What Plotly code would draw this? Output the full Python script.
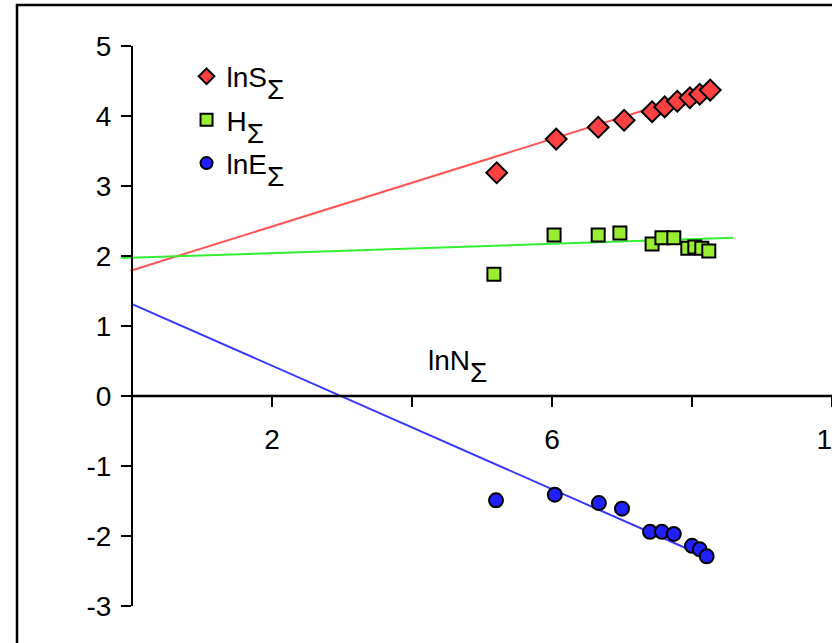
import plotly.graph_objects as go

# ---- data ----
s_x = [5.21, 6.06, 6.66, 7.03, 7.43, 7.61, 7.79, 7.97, 8.11, 8.26]
s_y = [3.19, 3.67, 3.84, 3.94, 4.06, 4.13, 4.21, 4.26, 4.31, 4.37]

h_x = [5.17, 6.03, 6.66, 6.97, 7.43, 7.57, 7.74, 7.94, 8.04, 8.14, 8.24]
h_y = [1.74, 2.30, 2.30, 2.33, 2.17, 2.26, 2.26, 2.11, 2.13, 2.11, 2.07]

e_x = [5.20, 6.04, 6.67, 7.00, 7.40, 7.57, 7.74, 8.00, 8.11, 8.21]
e_y = [-1.49, -1.41, -1.53, -1.61, -1.94, -1.94, -1.97, -2.14, -2.19, -2.29]

# trend lines (end points)
s_fit_x = [-0.02, 8.30]
s_fit_y = [1.79, 4.39]
h_fit_x = [-0.15, 8.59]
h_fit_y = [1.97, 2.26]
e_fit_x = [0.01, 8.20]
e_fit_y = [1.31, -2.30]

x_tickvals = [2, 4, 6, 8, 10]
x_ticktext = ["2", "", "6", "", "10"]
y_tickvals = [-3, -2, -1, 0, 1, 2, 3, 4, 5]
y_ticktext = ["-3", "-2", "-1", "0", "1", "2", "3", "4", "5"]

FONT = "Arial, Liberation Sans, sans-serif"
FS = 28
SIG = '<span style="baseline-shift:-0.42em">Σ</span>'

fig = go.Figure()

fig.add_trace(go.Scatter(x=s_fit_x, y=s_fit_y, mode="lines",
                         line=dict(color="#FF5555", width=2), showlegend=False))
fig.add_trace(go.Scatter(x=h_fit_x, y=h_fit_y, mode="lines",
                         line=dict(color="#33F033", width=2), showlegend=False))
fig.add_trace(go.Scatter(x=e_fit_x, y=e_fit_y, mode="lines",
                         line=dict(color="#3838FF", width=2), showlegend=False))

fig.add_trace(go.Scatter(x=s_x, y=s_y, mode="markers", name="lnS" + SIG,
                         legendgroup="a",
                         marker=dict(symbol="diamond", size=16, color="#FF4040",
                                     line=dict(color="black", width=2)),
                         cliponaxis=False))
fig.add_trace(go.Scatter(x=h_x, y=h_y, mode="markers", name="H" + SIG,
                         legendgroup="b",
                         marker=dict(symbol="square", size=13, color="#99EE33",
                                     line=dict(color="black", width=2)),
                         cliponaxis=False))
fig.add_trace(go.Scatter(x=e_x, y=e_y, mode="markers", name="lnE" + SIG,
                         legendgroup="c",
                         marker=dict(symbol="circle", size=14, color="#2020FF",
                                     line=dict(color="black", width=2)),
                         cliponaxis=False))

XMIN, XMAX = -0.2, 10.0
YMIN, YMAX = -3.0, 5.0

fig.update_layout(
    width=832, height=643,
    margin=dict(l=118, r=0, t=46, b=37, autoexpand=False),
    paper_bgcolor="white", plot_bgcolor="white",
    font=dict(family=FONT, size=FS, color="black"),
    xaxis=dict(range=[XMIN, XMAX], anchor="free", automargin=False,
               position=(0 - YMIN) / (YMAX - YMIN),
               showline=False, showgrid=False, zeroline=False,
               tickmode="array", tickvals=x_tickvals, ticktext=x_ticktext,
               ticks="outside", ticklen=10, tickwidth=1.5, tickcolor="black",
               ticklabeloverflow="allow", ticklabelstandoff=8,
               tickfont=dict(size=FS)),
    yaxis=dict(range=[YMIN, YMAX], anchor="free", automargin=False,
               position=(0 - XMIN) / (XMAX - XMIN),
               showline=True, linecolor="black", linewidth=2,
               showgrid=False, zeroline=False,
               tickmode="array", tickvals=y_tickvals, ticktext=y_ticktext,
               ticks="outside", ticklen=10, tickwidth=1.5, tickcolor="black",
               ticklabelstandoff=4,
               tickfont=dict(size=FS)),
    legend=dict(x=0.096, y=0.99, xanchor="left", yanchor="top",
                bgcolor="rgba(0,0,0,0)", font=dict(size=FS),
                itemsizing="constant", tracegroupgap=4,
                traceorder="grouped"),
    showlegend=True,
)

# x-axis line from 0 to 10 at y = 0
fig.add_shape(type="line", xref="x", yref="y", x0=0, x1=XMAX, y0=0, y1=0,
              line=dict(color="black", width=2.5), layer="above")

# outer frame
fig.add_shape(type="rect", xref="paper", yref="paper",
              x0=(17 - 118) / 714, x1=1.1, y0=-0.2, y1=(606 - 5) / 560,
              line=dict(color="black", width=2.5), fillcolor="rgba(0,0,0,0)")

fig.add_annotation(x=4.2, y=0.42, xref="x", yref="y", text="lnN" + SIG,
                   showarrow=False, xanchor="left", yanchor="middle",
                   font=dict(size=FS))

fig.write_html("out.html",
               config={"displayModeBar": False},
               post_script="document.body.style.margin='0px';")
